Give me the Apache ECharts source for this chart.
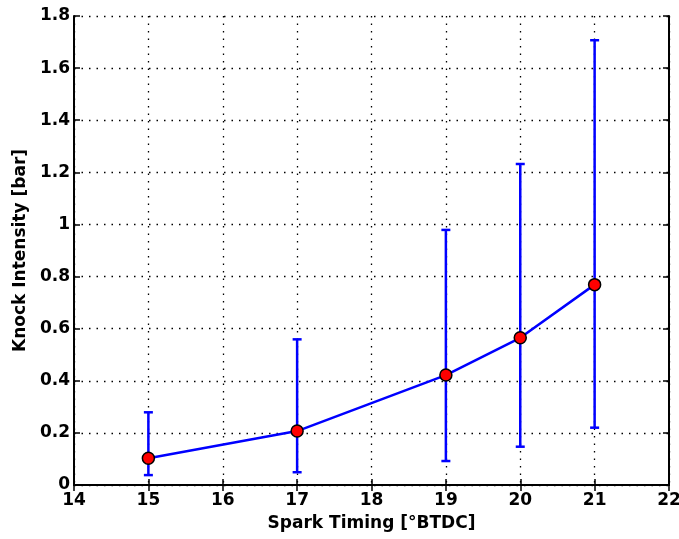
<!DOCTYPE html>
<html>
<head>
<meta charset="utf-8">
<script src="https://cdn.jsdelivr.net/npm/echarts@6/dist/echarts.min.js"></script>
<style>
html, body { margin: 0; padding: 0; background: #fff; }
#chart { width: 679px; height: 539px; }
</style>
</head>
<body>
<div id="chart"></div>
<script>
// spark timing (deg BTDC) and knock intensity
var sparkTiming = [15, 17, 19, 20, 21];
var knockMean = [0.103, 0.207, 0.422, 0.565, 0.769];
var knockLow = [0.038, 0.049, 0.092, 0.147, 0.220];
var knockHigh = [0.279, 0.559, 0.979, 1.232, 1.707];

var FONT = 'DejaVu Sans, Arial, sans-serif';

var lineData = [];
var errData = [];
for (var i = 0; i < sparkTiming.length; i++) {
	lineData.push([sparkTiming[i], knockMean[i]]);
	errData.push([sparkTiming[i], knockLow[i], knockHigh[i]]);
}

function renderErr(params, api) {
	var x = api.value(0);
	var lo = api.coord([x, api.value(1)]);
	var hi = api.coord([x, api.value(2)]);
	var half = 4.5;
	var style = { stroke: '#0000ff', lineWidth: 2.5 };
	return {
		type: 'group',
		children: [
			{ type: 'line', shape: { x1: lo[0], y1: lo[1], x2: hi[0], y2: hi[1] }, style: style },
			{ type: 'line', shape: { x1: lo[0] - half, y1: lo[1], x2: lo[0] + half, y2: lo[1] }, style: style },
			{ type: 'line', shape: { x1: hi[0] - half, y1: hi[1], x2: hi[0] + half, y2: hi[1] }, style: style }
		]
	};
}

var ech = echarts.init(document.getElementById('chart'));
var axisLine = { show: true, lineStyle: { color: '#000', width: 2 } };
var tick = { show: true, inside: true, length: 6, lineStyle: { color: '#000', width: 1.5 } };
var labelFont = { fontFamily: FONT, fontWeight: 'bold', fontSize: 17, color: '#000' };
var option = {
	animation: false,
	grid: { left: 74, top: 16, right: 10, bottom: 54, containLabel: false, outerBoundsMode: 'none' },
	xAxis: [{
		type: 'value',
		min: 14,
		max: 22,
		interval: 1,
		name: 'Spark Timing [°BTDC]',
		nameLocation: 'middle',
		nameGap: 30,
		nameTextStyle: labelFont,
		axisLine: axisLine,
		axisTick: tick,
		axisLabel: Object.assign({ margin: 7 }, labelFont),
		splitLine: { show: true, lineStyle: { type: [1.5, 6], color: '#000', width: 1.3 } }
	}, {
		type: 'value',
		position: 'top',
		min: 14,
		max: 22,
		interval: 1,
		axisLine: axisLine,
		axisTick: tick,
		axisLabel: { show: false },
		splitLine: { show: false }
	}],
	yAxis: [{
		type: 'value',
		min: 0,
		max: 1.8,
		interval: 0.2,
		name: 'Knock Intensity [bar]',
		nameLocation: 'middle',
		nameGap: 44,
		nameTextStyle: labelFont,
		axisLine: axisLine,
		axisTick: tick,
		axisLabel: Object.assign({
			margin: 4,
			formatter: function (v) { return +v.toFixed(1) + ''; }
		}, labelFont),
		splitLine: { show: true, lineStyle: { type: [1.5, 6], color: '#000', width: 1.3 } }
	}, {
		type: 'value',
		position: 'right',
		min: 0,
		max: 1.8,
		interval: 0.2,
		axisLine: axisLine,
		axisTick: tick,
		axisLabel: { show: false },
		splitLine: { show: false }
	}],
	series: [{
		type: 'custom',
		renderItem: renderErr,
		data: errData,
		encode: { x: 0, y: [1, 2] },
		z: 2
	}, {
		type: 'line',
		data: lineData,
		symbol: 'circle',
		symbolSize: 12,
		lineStyle: { color: '#0000ff', width: 2.5 },
		itemStyle: { color: '#ff0000', borderColor: '#000', borderWidth: 1.5 },
		z: 3
	}]
};
ech.setOption(option);
</script>
</body>
</html>
